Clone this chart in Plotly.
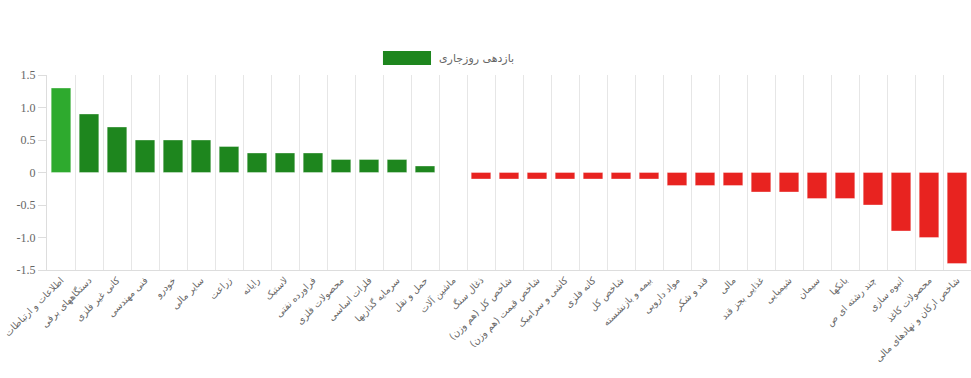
import plotly.graph_objects as go

categories = [
    "اطلاعات و ارتباطات", "دستگاههای برقی", "کانی غیر فلزی", "فنی مهندسی", "خودرو",
    "سایر مالی", "زراعت", "رایانه", "لاستیک", "فراورده نفتی",
    "محصولات فلزی", "فلزات اساسی", "سرمایه گذاریها", "حمل و نقل", "ماشین آلات",
    "ذغال سنگ", "شاخص کل (هم وزن)", "شاخص قیمت (هم وزن)", "کاشی و سرامیک", "کانه فلزی",
    "شاخص کل", "بیمه و بازنشسته", "مواد دارویی", "قند و شکر", "مالی",
    "غذایی بجز قند", "شیمیایی", "سیمان", "بانکها", "چند رشته ای ص",
    "انبوه سازی", "محصولات کاغذ", "شاخص ارکان و نهادهای مالی",
]
values = [
    1.3, 0.9, 0.7, 0.5, 0.5,
    0.5, 0.4, 0.3, 0.3, 0.3,
    0.2, 0.2, 0.2, 0.1, 0.0,
    -0.1, -0.1, -0.1, -0.1, -0.1,
    -0.1, -0.1, -0.2, -0.2, -0.2,
    -0.3, -0.3, -0.4, -0.4, -0.5,
    -0.9, -1.0, -1.4,
]
series_name = "بازدهی روزجاری"
y_tickvals = [-1.5, -1.0, -0.5, 0, 0.5, 1.0, 1.5]
y_ticktext = ["-1.5", "-1.0", "-0.5", "0", "0.5", "1.0", "1.5"]

GREEN = "#1e861e"
GREEN_HI = "#2eaa2e"
RED = "#e82320"

colors = []
for i, v in enumerate(values):
    if v >= 0:
        colors.append(GREEN_HI if i == 0 else GREEN)
    else:
        colors.append(RED)

fig = go.Figure()
fig.add_trace(go.Bar(
    x=categories, y=values, name=series_name,
    marker=dict(color=colors, line=dict(color="rgba(255,255,255,0.35)", width=1)),
    width=0.7, showlegend=False,
))

# legend imitation (wide colour box + label)
fig.add_shape(type="rect", xref="paper", yref="paper",
              x0=0.3636, x1=0.4156, y0=1.051, y1=1.123,
              fillcolor=GREEN, line=dict(width=0))
fig.add_annotation(text=series_name, xref="paper", yref="paper",
                   x=0.4222, y=1.087, xanchor="left", yanchor="middle",
                   showarrow=False,
                   font=dict(family="DejaVu Sans", size=11, color="#666666"))

fig.update_layout(
    width=971, height=378,
    margin=dict(l=47, r=0, t=75, b=108),
    paper_bgcolor="white", plot_bgcolor="white",
    bargap=0.3,
)
fig.update_xaxes(
    type="category", tickson="boundaries", showgrid=True, gridcolor="#e6e6e6", gridwidth=1,
    tickangle=-45, ticks="", showline=True, linecolor="#dddddd", automargin=False,
    tickfont=dict(family="DejaVu Sans", size=9.5, color="#666666"),
    range=[-0.5, len(categories) - 0.5],
)
fig.update_yaxes(
    range=[-1.5, 1.5], tickvals=y_tickvals, ticktext=y_ticktext, automargin=False,
    showgrid=False, zeroline=False, showline=True, linecolor="#dddddd",
    ticks="outside", ticklen=8, tickcolor="#dddddd",
    tickfont=dict(family="Times New Roman, Liberation Serif, serif", size=12, color="#666666"),
)

fig.write_html("out.html", config={"displayModeBar": False},
               post_script="document.body.style.margin='0';document.body.style.overflow='hidden';")
